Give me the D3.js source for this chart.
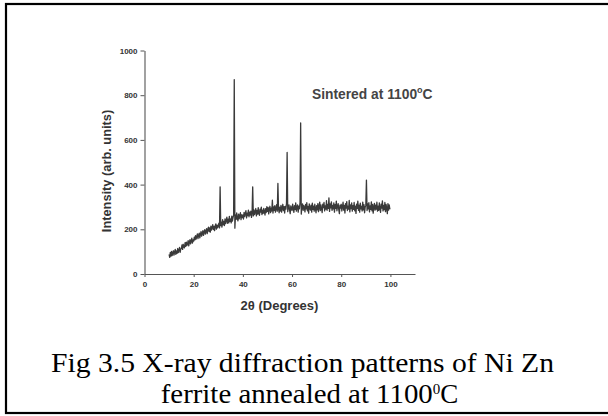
<!DOCTYPE html>
<html><head><meta charset="utf-8">
<script src="https://cdn.jsdelivr.net/npm/d3@7"></script>
<style>
html,body{margin:0;padding:0;background:#fff;}
svg{display:block;}
</style></head>
<body>
<svg id="c" width="608" height="416"></svg>
<script>
// 2θ start and step of the scan, intensity values
const xStart = 10, xStep = 0.25;
const intensity = [
  88, 74, 97, 80, 101, 82, 93, 104, 84, 99, 110, 88, 103, 92, 114, 96, 107, 119, 97, 112,
  114, 130, 110, 133, 120, 117, 140, 124, 143, 127, 135, 149, 126, 141, 154, 135, 147, 160, 138, 153,
  147, 165, 153, 172, 156, 168, 179, 158, 174, 183, 162, 178, 190, 169, 181, 194, 173, 188, 198, 178,
  192, 203, 181, 199, 210, 190, 206, 187, 214, 196, 208, 221, 199, 213, 194, 216, 224, 201, 219, 207,
  217, 228, 206, 390, 216, 232, 210, 243, 220, 235, 217, 247, 225, 240, 254, 227, 245, 229, 258, 235,
  246, 229, 259, 237, 252, 264, 870, 205, 264, 244, 273, 250, 238, 268, 247, 260, 274, 243, 265, 252,
  264, 246, 276, 257, 270, 283, 251, 272, 261, 286, 256, 277, 264, 281, 253, 273, 390, 260, 287, 266,
  278, 293, 260, 285, 268, 297, 272, 262, 290, 277, 299, 266, 286, 271, 294, 279, 264, 292, 275, 301,
  280, 298, 269, 291, 303, 275, 295, 282, 330, 273, 300, 285, 306, 277, 294, 310, 281, 405, 292, 274,
  299, 282, 307, 277, 295, 312, 284, 301, 273, 303, 290, 316, 544, 279, 298, 309, 286, 270, 305, 292,
  284, 313, 293, 276, 306, 289, 318, 281, 300, 309, 277, 304, 292, 320, 676, 268, 301, 314, 285, 307,
  299, 278, 311, 291, 319, 283, 303, 272, 314, 294, 286, 308, 277, 317, 289, 304, 281, 312, 293, 274,
  306, 287, 315, 279, 300, 322, 284, 309, 292, 275, 313, 297, 320, 282, 305, 290, 328, 285, 311, 294,
  341, 280, 314, 296, 323, 285, 307, 291, 318, 277, 310, 294, 326, 283, 303, 315, 288, 270, 308, 295,
  312, 282, 301, 321, 286, 307, 273, 315, 295, 324, 284, 303, 290, 329, 278, 309, 293, 318, 281, 306,
  289, 320, 283, 304, 271, 313, 294, 326, 285, 308, 277, 317, 291, 302, 282, 322, 287, 310, 274, 300,
  307, 420, 284, 314, 292, 319, 278, 305, 289, 323, 283, 311, 272, 300, 316, 286, 308, 290, 321, 281,
  304, 285, 318, 291, 276, 313, 295, 327, 282, 307, 288, 320, 279, 311, 294, 270, 315, 286, 309, 292,
  291
];
const xTicks = [0, 20, 40, 60, 80, 100];
const yTicks = [0, 200, 400, 600, 800, 1000];
const xLabel = "2θ (Degrees)";
const yLabel = "Intensity (arb. units)";
const annotation = "Sintered at 1100";
const captionLine1 = "Fig 3.5 X-ray diffraction patterns of Ni Zn";
const captionLine2 = "ferrite annealed at 1100";

const data = intensity.map((v, i) => ({x: xStart + i * xStep, y: v}));

const svg = d3.select("#c");

// outer frame
svg.append("rect").attr("x", 6).attr("y", 4).attr("width", 620).attr("height", 409)
  .attr("fill", "none").attr("stroke", "#000").attr("stroke-width", 2.2);

const x = d3.scaleLinear().domain([0, 110]).range([144.5, 415]);
const y = d3.scaleLinear().domain([0, 1000]).range([274, 50.5]);

const axisColor = "#555";
const sans = "Liberation Sans, Arial, sans-serif";
const gx = svg.append("g").attr("transform", `translate(0,${y(0)})`)
  .call(d3.axisBottom(x).tickValues(xTicks).tickFormat(d3.format("d")).tickSize(3).tickPadding(4).tickSizeOuter(0));
const gy = svg.append("g").attr("transform", `translate(${x(0)},0)`)
  .call(d3.axisLeft(y).tickValues(yTicks).tickFormat(d3.format("d")).tickSize(4).tickPadding(3).tickSizeOuter(0));
[gx, gy].forEach(g => {
  g.select(".domain").attr("stroke", axisColor).attr("stroke-width", 1.1);
  g.selectAll(".tick line").attr("stroke", axisColor).attr("stroke-width", 1);
  g.selectAll(".tick text").attr("fill", "#333").attr("font-family", sans)
    .attr("font-size", 8).attr("font-weight", "bold");
});

// pattern
const line = d3.line().x(d => x(d.x)).y(d => y(d.y));
svg.append("path").datum(data).attr("d", line)
  .attr("fill", "none").attr("stroke", "#3a3a3a").attr("stroke-width", 1.3).attr("stroke-linejoin", "round");

svg.append("text").attr("x", 279.5).attr("y", 310).attr("text-anchor", "middle")
  .attr("font-family", sans).attr("font-size", 13).attr("font-weight", "bold").attr("fill", "#333")
  .text(xLabel);
svg.append("text").attr("transform", "translate(111,171) rotate(-90)").attr("text-anchor", "middle")
  .attr("font-family", sans).attr("font-size", 12.8).attr("font-weight", "bold").attr("fill", "#333")
  .text(yLabel);

const ann = svg.append("text").attr("x", 312).attr("y", 99)
  .attr("font-family", sans).attr("font-size", 13.8).attr("font-weight", "bold").attr("fill", "#444");
ann.append("tspan").text(annotation);
ann.append("tspan").attr("dy", -6).attr("font-size", 9).text("o");
ann.append("tspan").attr("dy", 6).text("C");

const serif = "Liberation Serif, Times New Roman, serif";
svg.append("text").attr("x", 302.5).attr("y", 372).attr("text-anchor", "middle")
  .attr("font-family", serif).attr("font-size", 27).attr("fill", "#000")
  .attr("textLength", 503).attr("lengthAdjust", "spacingAndGlyphs").text(captionLine1);
const c2 = svg.append("text").attr("x", 309.5).attr("y", 403).attr("text-anchor", "middle")
  .attr("font-family", serif).attr("font-size", 27).attr("fill", "#000");
c2.append("tspan").attr("textLength", 272).attr("lengthAdjust", "spacingAndGlyphs").text(captionLine2);
c2.append("tspan").attr("dy", -9).attr("font-size", 15).text("0");
c2.append("tspan").attr("dy", 9).text("C");
</script>
</body></html>
